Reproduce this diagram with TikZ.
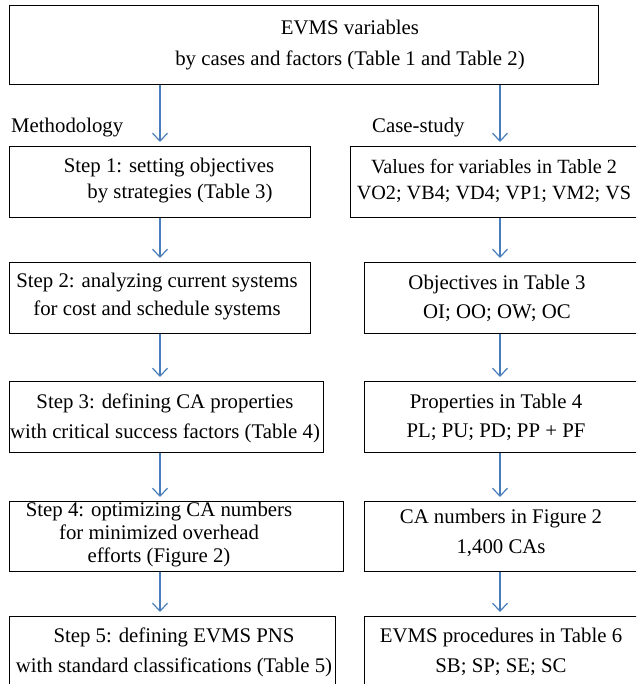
\documentclass[tikz,border=0pt]{standalone}
\usepackage{fontspec}
\setmainfont{Liberation Serif}
\usetikzlibrary{arrows.meta}
\definecolor{flowblue}{RGB}{74,126,187}
\tikzset{
  box/.style={draw=black,line width=1.3pt,anchor=north west,inner sep=0pt},
  lbl/.style={font=\fontsize{20.8pt}{#1}\selectfont,align=center,inner sep=0pt},
  lbl/.default=28pt,
  flow/.style={draw=flowblue,line width=1.2pt,-{Straight Barb[length=8pt,width=15pt]},shorten >=4pt}
}
\begin{document}
\begin{tikzpicture}[x=1pt,y=-1pt]
  \useasboundingbox (0,0) rectangle (636,684);
  \clip (0,0) rectangle (636,684);
  % top box
  \node[box,minimum width=589pt,minimum height=79pt] (vars) at (9,5) {};
  \node[lbl=31pt] (varstxt) at (350,45) {EVMS variables\\by cases and factors (Table 1 and Table 2)};
  \node[lbl,anchor=base west] (meth) at (11,133) {Methodology};
  \node[lbl,anchor=base west] (case) at (372,133) {Case-study};
  % methodology column
  \node[box,minimum width=301pt,minimum height=71pt] (s1) at (9,146) {};
  \node[box,minimum width=301pt,minimum height=71pt] (s2) at (9,262) {};
  \node[box,minimum width=314pt,minimum height=71pt] (s3) at (9,381) {};
  \node[box,minimum width=334pt,minimum height=70pt] (s4) at (9,501) {};
  \node[box,minimum width=326pt,minimum height=90pt] (s5) at (9,616) {};
  \node[lbl=26pt] (s1txt) at (169,181) {Step 1: setting objectives\\\hspace*{22pt}by strategies (Table 3)};
  \node[lbl] (s2txt) at (157,297) {Step 2: analyzing current systems\\for cost and schedule systems};
  \node[lbl=30pt] (s3txt) at (165,418) {Step 3: defining CA properties\\with critical success factors (Table 4)};
  \node[lbl=23pt] (s4txt) at (159,535) {Step 4: optimizing CA numbers\\for minimized overhead\\efforts (Figure 2)};
  \node[lbl=30pt] (s5txt) at (174,652) {Step 5: defining EVMS PNS\\with standard classifications (Table 5)};
  % case-study column
  \node[box,minimum width=310pt,minimum height=71pt] (c1) at (350,146) {};
  \node[box,minimum width=296pt,minimum height=71pt] (c2) at (364,262) {};
  \node[box,minimum width=296pt,minimum height=71pt] (c3) at (364,381) {};
  \node[box,minimum width=296pt,minimum height=70pt] (c4) at (364,501) {};
  \node[box,minimum width=296pt,minimum height=90pt] (c5) at (364,616) {};
  \node[lbl=26pt,font=\fontsize{20.2pt}{26pt}\selectfont] (c1txt) at (494,181) {Values for variables in Table 2\\VO2; VB4; VD4; VP1; VM2; VS};
  \node[lbl=29pt] (c2txt) at (497,298) {Objectives in Table 3\\OI; OO; OW; OC};
  \node[lbl=29pt] (c3txt) at (496,417) {Properties in Table 4\\PL; PU; PD; PP + PF};
  \node[lbl=30pt] (c4txt) at (501,533) {CA numbers in Figure 2\\1,400 CAs};
  \node[lbl=30pt] (c5txt) at (501,652) {EVMS procedures in Table 6\\SB; SP; SE; SC};
  % arrows
  \foreach \a/\b in {vars/s1,s1/s2,s2/s3,s3/s4,s4/s5}
    \draw[flow] (\a.south west -| 160,0) -- (\b.north west -| 160,0);
  \foreach \a/\b in {vars/c1,c1/c2,c2/c3,c3/c4,c4/c5}
    \draw[flow] (\a.south west -| 500,0) -- (\b.north west -| 500,0);
\end{tikzpicture}
\end{document}
